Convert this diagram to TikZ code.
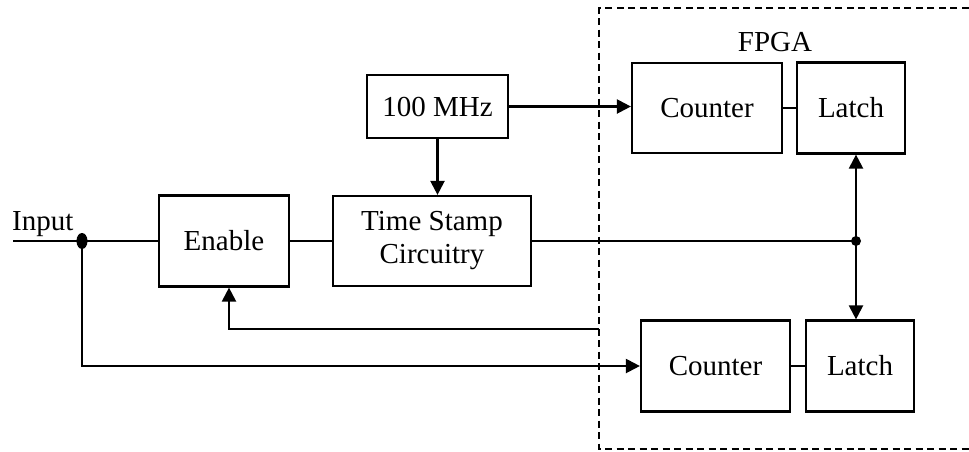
\documentclass[tikz,border=0pt]{standalone}
\usepackage{fontspec}
\setmainfont{Liberation Serif}
\usetikzlibrary{arrows.meta,calc}
\begin{document}
\begin{tikzpicture}[x=1pt,y=-1pt,
  every node/.style={font=\fontsize{29}{33}\selectfont},
  blk/.style={draw,line width=2.2pt,inner sep=0pt,align=center},
  wire/.style={line width=2.2pt},
  arr/.style={wire,-{Triangle[length=14pt,width=14pt]}},
  dashedbox/.style={line width=2.2pt,dash pattern=on 7pt off 4.5pt}]
\useasboundingbox (0,0) rectangle (969,451);
% FPGA region
\draw[dashedbox] (980,8) -- (599,8) -- (599,449) -- (980,449);
\node (fpga) at (775,42) {FPGA};
% blocks
\node[blk,minimum width=130pt,minimum height=91pt] (en) at (224,241) {Enable};
\node[blk,minimum width=198pt,minimum height=90pt] (ts) at (432,241) {Time Stamp\\Circuitry};
\node[blk,minimum width=141pt,minimum height=63pt] (mhz) at (437.5,106.5) {100 MHz};
\node[blk,minimum width=150pt,minimum height=90pt] (c1) at (707,108) {Counter};
\node[blk,minimum width=108pt,minimum height=91pt] (l1) at (851,108) {Latch};
\node[blk,minimum width=149pt,minimum height=91pt] (c2) at (715.5,366) {Counter};
\node[blk,minimum width=108pt,minimum height=91pt] (l2) at (860,366) {Latch};
% input
\node[anchor=base west,inner sep=0pt] (inlbl) at (12,230) {Input};
\coordinate (in) at (13,241);
\coordinate (indot) at (82,241);
\coordinate (jn) at (856,241);
\coordinate (fb) at (599,329);
\draw[wire] (in) -- (en.west);
\fill (indot) ellipse [x radius=5.5pt,y radius=8pt];
\draw[wire] (en.east) -- (ts.west);
\draw[arr] (mhz.south) -- (mhz.south |- ts.north);
\draw[arr] (mhz.east) -- (c1.west |- mhz.east);
\draw[wire] (c1.east) -- (l1.west);
\draw[wire] (ts.east) -- (jn);
\fill (jn) circle (5pt);
\draw[arr] (jn) -- (jn |- l1.south);
\draw[arr] (jn) -- (jn |- l2.north);
\draw[arr] (fb) -| ([xshift=5pt]en.south);
\draw[arr] (indot) |- (c2.west);
\draw[wire] (c2.east) -- (l2.west);
\end{tikzpicture}
\end{document}
